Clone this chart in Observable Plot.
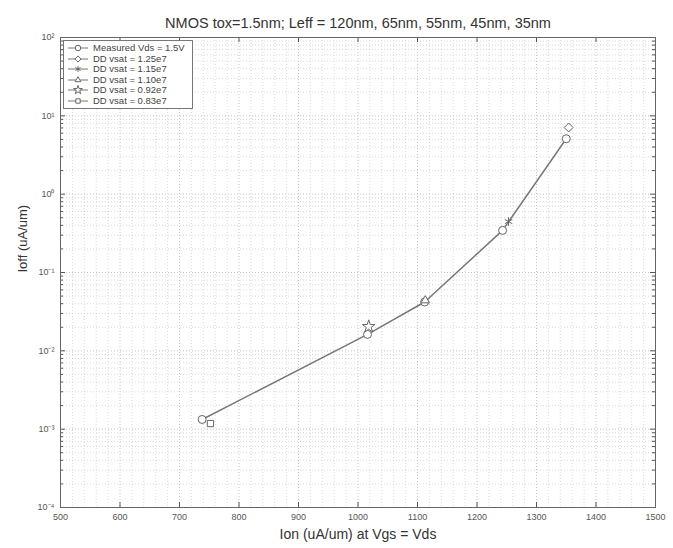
<!DOCTYPE html>
<html>
<head>
<meta charset="utf-8">
<script src="https://cdn.jsdelivr.net/npm/d3@7"></script>
<script src="https://cdn.jsdelivr.net/npm/@observablehq/plot@0.6"></script>
<style>
  html, body { margin: 0; padding: 0; background: #fff; }
  #wrap { position: relative; width: 673px; height: 548px; font-family: "Liberation Sans", Arial, sans-serif; }
  #legend { position: absolute; left: 63px; top: 40px; background: #fff; border: 1px solid #777; padding: 2px 7px 2px 3px; font-size: 9.5px; color: #444; line-height: 10.5px; }
  #legend .row { display: flex; align-items: center; white-space: nowrap; }
  #legend svg { margin-right: 4px; }
</style>
</head>
<body>
<div id="wrap"></div>
<script>
// ---- data ----
const titleText = "NMOS tox=1.5nm; Leff = 120nm, 65nm, 55nm, 45nm, 35nm";
const xLabel = "Ion (uA/um) at Vgs = Vds";
const yLabel = "Ioff (uA/um)";

const measuredLabel = "Measured Vds = 1.5V";
const measuredIon  = [738, 1016, 1112, 1243, 1350];
const measuredIoff = [1.33e-3, 0.0162, 0.042, 0.345, 5.1];

const ddLabels = ["DD vsat = 1.25e7", "DD vsat = 1.15e7", "DD vsat = 1.10e7", "DD vsat = 0.92e7", "DD vsat = 0.83e7"];
const ddIon    = [1354, 1253, 1113, 1018, 752];
const ddIoff   = [7.1, 0.447, 0.044, 0.0204, 1.18e-3];

const xTicks = [500, 600, 700, 800, 900, 1000, 1100, 1200, 1300, 1400, 1500];
const yTicks = [1e-4, 1e-3, 1e-2, 1e-1, 1, 10, 100];
const yTickLabels = ["10\u207B\u2074", "10\u207B\u00B3", "10\u207B\u00B2", "10\u207B\u00B9", "10\u2070", "10\u00B9", "10\u00B2"];

// ---- derived tables ----
const allLabels = [measuredLabel, ...ddLabels];
const symbols = [d3.symbolCircle, d3.symbolDiamond2, d3.symbolAsterisk, d3.symbolTriangle2, d3.symbolStar, d3.symbolSquare2];
const measured = measuredIon.map((x, i) => ({ion: x, ioff: measuredIoff[i], series: measuredLabel}));
const dd = ddIon.map((x, i) => ({ion: x, ioff: ddIoff[i], series: ddLabels[i]}));
const xMinor = d3.range(500, 1501, 20).filter(v => v % 100 !== 0);
const yMinor = [];
for (let e = -4; e < 2; e++) for (let m = 2; m <= 9; m++) yMinor.push(m * Math.pow(10, e));

const W = 673, H = 548, mL = 60, mR = 18, mT = 37, mB = 41;
const pw = W - mL - mR, ph = H - mT - mB;
const gridColor = "#bbb";
const ink = "#555";

const chart = Plot.plot({
  width: W, height: H,
  marginLeft: mL, marginRight: mR, marginTop: mT, marginBottom: mB,
  style: {fontFamily: "Liberation Sans, Arial, sans-serif", background: "#fff"},
  x: {domain: [500, 1500]},
  y: {type: "log", domain: [1e-4, 100]},
  symbol: {domain: allLabels, range: symbols},
  marks: [
    Plot.gridX(xMinor, {stroke: gridColor, strokeOpacity: 0.55, strokeDasharray: "1,2"}),
    Plot.gridY(yMinor, {stroke: gridColor, strokeOpacity: 0.55, strokeDasharray: "1,2"}),
    Plot.gridX(xTicks, {stroke: gridColor, strokeOpacity: 0.85, strokeDasharray: "1,2"}),
    Plot.gridY(yTicks, {stroke: gridColor, strokeOpacity: 0.85, strokeDasharray: "1,2"}),
    // inward ticks (MATLAB style box)
    Plot.tickX(xTicks, {x: d => d, insetTop: ph - 5, stroke: ink}),
    Plot.tickX(xTicks, {x: d => d, insetBottom: ph - 5, stroke: ink}),
    Plot.tickY(yTicks, {y: d => d, insetRight: pw - 5, stroke: ink}),
    Plot.tickY(yTicks, {y: d => d, insetLeft: pw - 5, stroke: ink}),
    Plot.tickY(yMinor, {y: d => d, insetRight: pw - 3, stroke: ink}),
    Plot.tickY(yMinor, {y: d => d, insetLeft: pw - 3, stroke: ink}),
    Plot.frame({stroke: "#666"}),
    Plot.axisX(xTicks, {tickSize: 0, tickPadding: 6, fontSize: 9, fill: "#555", label: null, tickFormat: d => String(d)}),
    Plot.axisY(yTicks, {tickSize: 0, tickPadding: 6, fontSize: 9, fill: "#555", label: null,
      tickFormat: d => yTickLabels[yTicks.indexOf(d)]}),
    // data
    Plot.line(measured, {x: "ion", y: "ioff", stroke: "#777", strokeWidth: 1.5}),
    Plot.dot(measured, {x: "ion", y: "ioff", symbol: "series", r: 4, stroke: "#666", fill: "white", strokeWidth: 1}),
    Plot.dot(dd, {x: "ion", y: "ioff", symbol: "series", r: 4, stroke: "#666", fill: "white", strokeWidth: 1}),
    // titles
    Plot.text([titleText], {frameAnchor: "top", dy: -20, text: d => d, fontSize: 14.5, fill: "#333"}),
    Plot.text([xLabel], {frameAnchor: "bottom", dy: 31, text: d => d, fontSize: 14, fill: "#333"}),
    Plot.text([yLabel], {frameAnchor: "left", dx: -38, rotate: -90, text: d => d, fontSize: 13, fill: "#333"})
  ]
});

const wrap = document.getElementById("wrap");
wrap.appendChild(chart);

// legend overlay
const legend = document.createElement("div");
legend.id = "legend";
allLabels.forEach((lab, i) => {
  const row = document.createElement("div");
  row.className = "row";
  const path = d3.symbol(symbols[i], 24)();
  row.innerHTML = `<svg width="22" height="10"><line x1="1" x2="21" y1="5" y2="5" stroke="#777" stroke-width="1"/><path transform="translate(11,5)" d="${path}" fill="white" stroke="#666" stroke-width="1"/></svg><span>${lab}</span>`;
  legend.appendChild(row);
});
wrap.appendChild(legend);
</script>
</body>
</html>
